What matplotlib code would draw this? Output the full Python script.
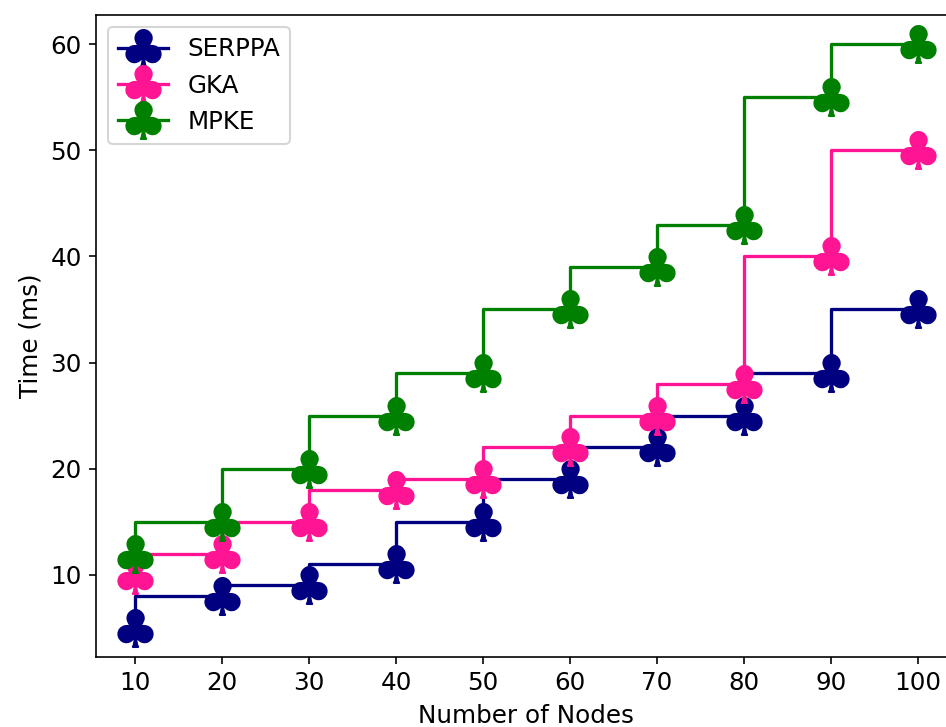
import matplotlib
matplotlib.use('Agg')
import matplotlib.pyplot as plt

# values
nodes = [10, 20, 30, 40, 50, 60, 70, 80, 90, 100]
serppa = [5, 8, 9, 11, 15, 19, 22, 25, 29, 35]
gka = [10, 12, 15, 18, 19, 22, 25, 28, 40, 50]
mpke = [12, 15, 20, 25, 29, 35, 39, 43, 55, 60]

plt.rcParams['font.size'] = 12

fig = plt.figure(figsize=(947 / 148, 727 / 148), dpi=148)
ax = fig.add_axes([0.1014, 0.0963, 0.909, 0.883])

ax.step(nodes, serppa, where='pre', color='navy', marker=r'$\clubsuit$', markersize=18, lw=1.6, label='SERPPA')
ax.step(nodes, gka, where='pre', color='deeppink', marker=r'$\clubsuit$', markersize=18, lw=1.6, label='GKA')
ax.step(nodes, mpke, where='pre', color='green', marker=r'$\clubsuit$', markersize=18, lw=1.6, label='MPKE')

ax.set_xticks(nodes)
ax.set_xlabel('Number of Nodes')
ax.set_ylabel('Time (ms)')
ax.legend(loc='upper left')

fig.savefig('out.png', dpi=148)
